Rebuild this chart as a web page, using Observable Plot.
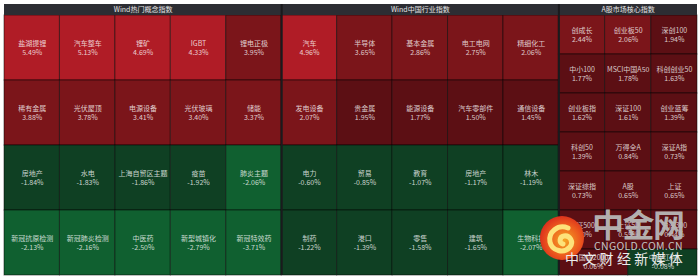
<!DOCTYPE html>
<html>
<head>
<meta charset="utf-8">
<script src="https://cdn.jsdelivr.net/npm/d3@7"></script>
<script src="https://cdn.jsdelivr.net/npm/@observablehq/plot@0.6"></script>
<style>
  html, body { margin: 0; padding: 0; background: #fff; }
  #wrap { position: relative; width: 699px; height: 278px; overflow: hidden; font-family: "Noto Sans CJK SC", "Noto Sans", sans-serif; }
  #wrap svg { display: block; }
  .wm { position: absolute; white-space: nowrap; font-family: "Noto Sans CJK SC", sans-serif; pointer-events: none; }
</style>
</head>
<body>
<div id="wrap"></div>
<script>
// ---- data ----
const panelTitles = ["Wind热门概念指数", "Wind中国行业指数", "A股市场核心指数"];
const panelWidths = [5, 5, 2.5];           // relative panel widths (column units)

const conceptNames = ["盐湖提锂", "汽车整车", "锂矿", "IGBT", "锂电正极",
  "稀有金属", "光伏屋顶", "电源设备", "光伏玻璃", "储能",
  "房地产", "水电", "上海自贸区主题", "疫苗", "肺炎主题",
  "新冠抗原检测", "新冠肺炎检测", "中医药", "新型城镇化", "新冠特效药"];
const conceptValues = [5.49, 5.13, 4.69, 4.33, 3.95,
  3.88, 3.78, 3.41, 3.40, 3.37,
  -1.84, -1.83, -1.86, -1.92, -2.06,
  -2.13, -2.16, -2.50, -2.79, -3.71];
const conceptRows = [5, 5, 5, 5];

const industryNames = ["汽车", "半导体", "基本金属", "电工电网", "精细化工",
  "发电设备", "贵金属", "能源设备", "汽车零部件", "通信设备",
  "电力", "贸易", "教育", "房地产", "林木",
  "制药", "港口", "零售", "建筑", "生物科技"];
const industryValues = [4.96, 3.65, 2.86, 2.75, 2.06,
  2.07, 1.95, 1.77, 1.50, 1.45,
  -0.60, -0.85, -1.07, -1.17, -1.19,
  -1.22, -1.39, -1.58, -1.65, -2.07];
const industryRows = [5, 5, 5, 5];

const coreNames = ["创成长", "创业板50", "深创100",
  "中小100", "MSCI中国A50", "科创创业50",
  "创业板指", "深证100", "创业蓝筹",
  "科创50", "万得全A", "深证A指",
  "深证综指", "A股", "上证",
  "中证500", "上证50", "沪深300",
  "国证2000", "中证红利"];
const coreValues = [2.44, 2.06, 1.94,
  1.77, 1.78, 1.63,
  1.62, 1.61, 1.39,
  1.39, 0.84, 0.73,
  0.73, 0.65, 0.65,
  0.60, 0.55, 0.44,
  0.06, -0.08];
const coreRows = [3, 3, 3, 3, 3, 3, 2];

const colorBreaks = [-2, 0, 2, 4];
const colorRange = ["#106030", "#0f4023", "#5c0f14", "#7b151a", "#b01c26"];

// ---- layout (equal-area grid per panel) ----
const headerH = 0.0406;
const panelsData = [
  {names: conceptNames, values: conceptValues, rows: conceptRows},
  {names: industryNames, values: industryValues, rows: industryRows},
  {names: coreNames, values: coreValues, rows: coreRows}
];
const cells = [];
const panels = [];
let px = 0;
panelsData.forEach((p, pi) => {
  const w = panelWidths[pi];
  panels.push({title: panelTitles[pi], x1: px, x2: px + w});
  const total = d3.sum(p.rows);
  let k = 0, yy = headerH;
  p.rows.forEach(n => {
    const h = (1 - headerH) * n / total;
    for (let j = 0; j < n; j++) {
      cells.push({
        name: p.names[k], value: p.values[k],
        x1: px + w * j / n, x2: px + w * (j + 1) / n,
        y1: yy, y2: yy + h
      });
      k++;
    }
    yy += h;
  });
  px += w;
});
const totalW = px;
const seps = panels.slice(1).map(p => p.x1);

const chart = Plot.plot({
  width: 699, height: 278,
  marginTop: 4, marginLeft: 4, marginRight: 2, marginBottom: 3,
  x: {domain: [0, totalW], axis: null},
  y: {domain: [0, 1], reverse: true, axis: null},
  color: {type: "threshold", domain: colorBreaks, range: colorRange},
  style: {background: "#fff", fontFamily: "'Noto Sans CJK SC', sans-serif"},
  marks: [
    Plot.rect(cells, {x1: "x1", x2: "x2", y1: "y1", y2: "y2", fill: "value",
      stroke: "#000", strokeOpacity: 0.5, strokeWidth: 1}),
    Plot.rect(panels, {x1: "x1", x2: "x2", y1: 0, y2: headerH, fill: "#2c2d33"}),
    Plot.text(panels, {x: d => (d.x1 + d.x2) / 2, y: headerH / 2, text: "title",
      fill: "#e4e4e4", fontSize: 7, textAnchor: "middle"}),
    Plot.ruleX(seps, {y1: 0, y2: 1, stroke: "#1a1a1d", strokeWidth: 2}),
    Plot.text(cells, {x: d => (d.x1 + d.x2) / 2, y: d => (d.y1 + d.y2) / 2, text: "name",
      dy: -4.5, fill: "#fff", fillOpacity: 0.78, fontSize: 7, textAnchor: "middle"}),
    Plot.text(cells, {x: d => (d.x1 + d.x2) / 2, y: d => (d.y1 + d.y2) / 2,
      text: d => d.value.toFixed(2) + "%",
      dy: 4.5, fill: "#fff", fillOpacity: 0.78, fontSize: 7, textAnchor: "middle"})
  ]
});
const wrap = document.getElementById("wrap");
wrap.appendChild(chart);

// ---- watermark ----
const logo = document.createElementNS("http://www.w3.org/2000/svg", "svg");
logo.setAttribute("width", "48"); logo.setAttribute("height", "48");
logo.setAttribute("viewBox", "0 0 48 48");
logo.setAttribute("style", "position:absolute;left:538px;top:214px;pointer-events:none;");
logo.innerHTML = `
<defs><radialGradient id="lg" cx="0.55" cy="0.55" r="0.6">
<stop offset="0" stop-color="#f5a623"/><stop offset="0.6" stop-color="#ec5a1e"/><stop offset="1" stop-color="#d9281c"/></radialGradient></defs>
<circle cx="24" cy="24" r="22" fill="url(#lg)"/>
<path d="M30 14 C20 10 10 18 12 28 C14 37 26 40 32 33 C36 28 32 21 26 22 C21 23 21 29 25 30" fill="none" stroke="#fde27a" stroke-width="5" stroke-linecap="round"/>`;
wrap.appendChild(logo);

function addText(txt, style) {
  const d = document.createElement("div");
  d.className = "wm"; d.textContent = txt; d.setAttribute("style", style);
  wrap.appendChild(d);
}
addText("中金网", "left:592px;top:204px;font-size:32px;font-weight:bold;letter-spacing:-1.5px;color:rgba(185,185,185,0.95);line-height:1.2;");
addText("CNGOLD.COM.CN", "left:594px;top:240px;font-size:10.5px;letter-spacing:0.3px;color:#c4c4c4;line-height:1.2;");
addText("中文财经新媒体", "left:565px;top:250px;font-size:14px;letter-spacing:3.3px;color:#ececec;line-height:1.2;");
</script>
</body>
</html>
